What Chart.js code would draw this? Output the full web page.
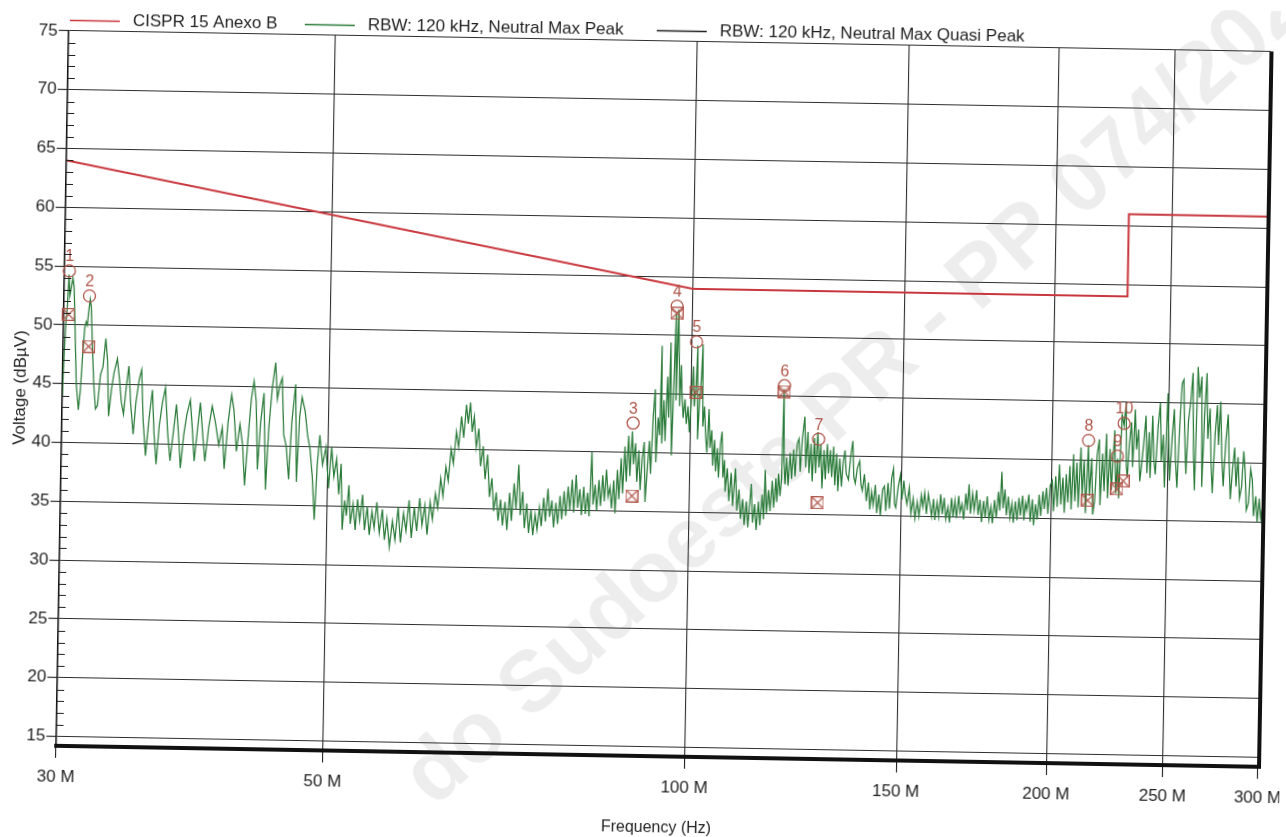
<!DOCTYPE html>
<html>
<head>
<meta charset="utf-8">
<title>Conducted emissions 30 MHz - 300 MHz</title>
<script src="https://cdn.jsdelivr.net/npm/chart.js@4.4.1/dist/chart.umd.min.js"></script>
<style>
  html, body { margin: 0; padding: 0; background: #ffffff; overflow: hidden; }
  #sheet { position: absolute; left: 0; top: 0; width: 1286px; height: 837px;
           transform: rotate(1deg); transform-origin: 643px 418.5px; }
  canvas { display: block; }
</style>
</head>
<body>
<div id="sheet"><canvas id="chart" width="1286" height="837"></canvas></div>
<script>
// ---- Series names -------------------------------------------------------
const seriesNames = [
  'CISPR 15 Anexo B',
  'RBW: 120 kHz, Neutral Max Peak',
  'RBW: 120 kHz, Neutral Max Quasi Peak'
];

// ---- Axis ticks ---------------------------------------------------------
const freqTicks = [30, 50, 100, 150, 200, 250, 300];            // MHz
const freqTickLabels = ['30 M', '50 M', '100 M', '150 M', '200 M', '250 M', '300 M'];
const levelTicks = [15, 20, 25, 30, 35, 40, 45, 50, 55, 60, 65, 70, 75];  // dBµV

// ---- Limit line (MHz, dBµV) ---------------------------------------------
const limitFreq = [30, 100, 230, 230, 300];
const limitLevel = [64, 54, 54, 61, 61];

// ---- Markers: peak (circle) and quasi-peak (boxed cross) ---------------
const markerNumbers = ['1', '2', '3', '4', '5', '6', '7', '8', '9', '10'];
const markerFreq = [30.28, 31.5, 89.6, 97.1, 100.9, 119.6, 127.9, 214.5, 226.8, 229.5];
const markerPeak = [54.6, 52.5, 42.5, 52.5, 49.5, 45.9, 41.4, 41.7, 40.4, 43.2];
const markerQuasiPeak = [50.9, 48.2, 36.3, 51.9, 45.2, 45.4, 36.0, 36.6, 37.6, 38.3];

// ---- Max peak sweep, [MHz, dBµV] ------------------------------------------
const sweep30to50 = [
  [30.00,44.0],[30.07,47.8],[30.14,50.3],[30.20,51.5],[30.27,54.3],[30.34,52.5],[30.42,53.2],[30.50,54.0],[30.58,53.2],[30.68,49.5],
  [30.80,45.0],[30.95,42.8],[31.05,44.5],[31.15,47.5],[31.25,49.8],[31.33,50.3],[31.40,50.0],[31.47,51.2],[31.55,52.2],[31.62,51.6],
  [31.72,48.5],[31.85,45.0],[31.98,42.9],[32.10,43.2],[32.25,45.8],[32.40,46.5],[32.55,48.9],[32.68,47.0],[32.80,42.3],[32.95,44.5],
  [33.10,46.0],[33.30,47.2],[33.45,45.5],[33.60,43.5],[33.75,42.5],[33.90,44.8],[34.05,46.6],[34.20,43.5],[34.40,40.8],[34.55,43.5],
  [34.75,45.5],[34.90,46.3],[35.05,42.0],[35.25,39.0],[35.45,42.2],[35.65,44.6],[35.80,41.0],[35.98,38.3],[36.15,41.5],[36.35,43.5],
  [36.55,44.8],[36.75,41.0],[36.95,38.6],[37.15,41.0],[37.35,43.4],[37.55,40.5],[37.70,38.0],[37.90,40.8],[38.10,42.5],[38.35,43.8],
  [38.55,41.0],[38.70,38.6],[38.90,41.2],[39.10,43.6],[39.30,41.0],[39.50,38.6],[39.75,41.5],[40.00,43.3],[40.25,42.0],[40.55,40.0],
  [40.80,41.5],[41.00,38.0],[41.25,42.0],[41.50,44.3],[41.70,43.0],[41.95,39.5],[42.20,41.8],[42.45,40.0],[42.65,36.6],[42.90,41.0],
  [43.10,44.0],[43.30,45.5],[43.50,43.8],[43.70,38.0],[43.90,42.0],[44.15,44.5],[44.40,36.3],[44.60,41.5],[44.85,45.0],[45.10,47.1],
  [45.30,44.0],[45.50,45.2],[45.70,45.8],[45.90,41.0],[46.15,40.0],[46.40,37.2],[46.60,42.0],[46.90,45.3],[47.10,37.0],[47.30,42.5],
  [47.50,44.2],[47.80,43.0],[48.05,41.0],[48.30,39.8],[48.55,37.5],[48.80,33.8],[49.00,38.5],[49.20,41.0],[49.50,38.5],[49.80,40.0]
];
const sweep50to100 = [
  [50.10,36.5],[50.35,40.0],[50.60,37.5],[50.85,39.0],[51.10,36.0],[51.30,38.6],[51.50,33.0],[51.70,35.5],[51.90,34.2],[52.10,36.8],
  [52.30,33.5],[52.55,35.2],[52.80,33.0],[53.00,35.6],[53.25,33.8],[53.50,36.0],[53.75,33.0],[54.00,35.0],[54.25,32.6],[54.50,34.6],
  [54.75,33.2],[55.00,35.4],[55.30,32.8],[55.60,34.8],[55.85,32.2],[56.10,34.0],[56.40,31.6],[56.70,33.8],[57.00,32.2],[57.30,35.0],
  [57.60,32.0],[57.90,34.5],[58.20,33.0],[58.50,35.6],[58.80,32.4],[59.10,35.0],[59.40,33.0],[59.70,35.8],[60.00,33.5],[60.30,35.2],
  [60.60,32.7],[60.90,35.5],[61.20,34.0],[61.50,36.2],[61.80,35.0],[62.10,37.5],[62.40,36.0],[62.70,38.5],[63.00,37.3],[63.30,40.0],
  [63.60,38.8],[63.90,41.5],[64.20,40.2],[64.50,42.8],[64.80,41.0],[65.10,43.8],[65.35,42.2],[65.60,44.0],[65.85,41.5],[66.10,42.8],
  [66.40,40.2],[66.70,41.8],[67.00,38.6],[67.30,40.3],[67.60,37.5],[67.90,39.6],[68.20,36.0],[68.50,37.6],[68.80,34.8],[69.10,36.4],
  [69.40,34.0],[69.70,35.8],[70.00,33.6],[70.30,35.6],[70.60,33.2],[70.90,36.4],[71.20,34.0],[71.50,37.2],[71.80,35.0],[72.10,38.8],
  [72.40,34.5],[72.70,36.5],[73.00,33.4],[73.30,35.5],[73.60,33.0],[73.90,35.0],[74.20,32.8],[74.50,34.6],[74.80,33.3],[75.10,35.2],
  [75.40,33.6],[75.70,36.0],[76.00,34.0],[76.30,36.8],[76.60,34.4],[76.90,35.8],[77.20,33.5],[77.50,35.6],[77.80,33.8],[78.10,36.2],
  [78.40,34.2],[78.70,36.6],[79.00,34.5],[79.30,37.0],[79.60,35.0],[79.90,37.6],[80.20,34.8],[80.50,38.0],[80.80,35.2],[81.10,36.8],
  [81.40,34.6],[81.70,37.0],[82.00,34.7],[82.30,36.5],[82.60,34.5],[82.90,40.0],[83.20,35.5],[83.50,37.2],[83.80,35.0],[84.10,37.6],
  [84.40,35.4],[84.70,38.0],[85.00,35.8],[85.30,38.5],[85.60,36.2],[85.90,37.0],[86.20,35.2],[86.50,37.6],[86.80,34.8],[87.10,38.5],
  [87.40,36.0],[87.70,39.5],[88.00,36.5],[88.30,40.5],[88.60,37.5],[88.90,41.4],[89.20,38.0],[89.50,41.8],[89.80,39.0],[90.10,40.8],
  [90.40,37.5],[90.70,40.2],[91.00,36.8],[91.30,39.5],[91.60,40.9],[91.90,35.8],[92.20,38.5],[92.50,41.0],[92.80,38.2],[93.10,43.0],
  [93.40,45.4],[93.70,39.2],[94.00,43.0],[94.30,41.5],[94.50,49.1],[94.70,40.8],[95.00,44.5],[95.30,41.0],[95.60,46.5],[95.90,43.0],
  [96.10,49.4],[96.30,44.0],[96.50,39.8],[96.80,47.0],[97.00,51.9],[97.20,44.5],[97.45,52.2],[97.70,48.0],[97.90,44.0],[98.10,47.5],
  [98.30,45.1],[98.60,43.0],[98.90,44.6],[99.20,42.5],[99.50,44.0],[99.80,41.8]
];
const sweep100to150 = [
  [100.10,44.5],[100.40,47.4],[100.70,44.0],[101.00,46.0],[101.20,49.2],[101.40,41.2],[101.70,44.5],[102.00,46.5],[102.20,49.3],[102.40,42.3],
  [102.70,44.0],[103.00,41.5],[103.30,40.1],[103.60,43.8],[103.90,40.5],[104.20,42.0],[104.50,39.0],[104.80,41.2],[105.10,38.5],[105.40,40.5],
  [105.70,38.0],[106.00,40.8],[106.30,41.9],[106.60,38.0],[106.90,39.5],[107.10,36.8],[107.50,38.8],[107.90,36.0],[108.30,38.4],[108.70,35.6],
  [109.20,38.8],[109.60,35.2],[110.00,37.0],[110.40,34.5],[110.80,36.2],[111.20,34.0],[111.60,36.0],[112.00,33.8],[112.60,37.5],[113.00,34.2],
  [113.40,35.8],[113.80,33.6],[114.20,36.0],[114.60,34.0],[115.00,36.6],[115.40,34.5],[115.60,38.7],[116.00,35.0],[116.40,37.0],[116.80,35.2],
  [117.20,37.8],[117.60,35.5],[118.00,38.0],[118.30,36.0],[118.60,38.4],[119.00,36.5],[119.30,38.0],[119.55,45.6],[119.80,39.5],[120.10,37.5],
  [120.40,39.8],[120.80,37.4],[121.20,40.2],[121.60,38.0],[122.00,40.5],[122.40,38.2],[122.80,41.0],[123.20,41.4],[123.60,38.6],[124.00,41.5],
  [124.50,43.3],[124.90,39.0],[125.30,42.0],[125.70,38.5],[126.10,41.0],[126.50,37.8],[126.90,41.5],[127.30,38.5],[127.70,42.0],[128.10,39.0],
  [128.50,41.0],[128.90,37.2],[129.30,40.5],[129.70,38.0],[130.10,41.0],[130.50,38.5],[130.90,40.5],[131.30,38.2],[131.70,40.8],[132.10,37.5],
  [132.50,40.2],[132.90,37.0],[133.30,39.8],[133.80,37.4],[134.20,39.5],[134.60,40.5],[135.00,38.5],[135.60,38.0],[136.10,40.0],[136.60,41.3],
  [137.00,38.2],[137.40,37.7],[137.90,39.0],[138.50,39.6],[138.90,37.6],[139.30,37.1],[139.80,38.5],[140.40,36.2],[140.90,37.8],[141.40,35.5],
  [141.80,37.0],[142.30,35.9],[142.80,37.6],[143.30,35.2],[143.80,36.8],[144.30,35.0],[144.80,37.2],[145.30,37.5],[145.80,35.4],[146.30,37.8],
  [146.80,35.6],[147.30,38.2],[147.80,39.0],[148.20,36.0],[148.60,35.7],[149.20,37.5],[149.80,38.5]
];
const sweep150to200 = [
  [150.30,36.4],[150.80,38.0],[151.20,36.9],[151.80,36.0],[152.40,37.4],[153.00,35.2],[153.60,36.5],[154.20,34.8],[154.80,36.2],[155.40,35.0],
  [156.00,36.8],[156.50,35.8],[157.00,37.0],[157.60,35.2],[158.10,36.9],[158.60,36.1],[159.20,35.0],[159.70,36.5],[160.20,34.7],[160.80,36.2],
  [161.40,35.0],[161.90,36.9],[162.50,35.2],[163.00,36.6],[163.60,34.8],[164.20,35.8],[164.80,34.5],[165.30,36.6],[165.90,35.0],[166.40,36.4],
  [167.00,34.9],[167.60,36.8],[168.10,35.4],[168.70,36.1],[169.30,34.8],[169.90,37.0],[170.40,35.6],[170.90,37.8],[171.50,35.3],[172.10,37.0],
  [172.70,35.6],[173.40,37.3],[174.00,35.2],[174.60,36.5],[175.20,34.6],[175.80,36.4],[176.40,35.0],[177.00,36.8],[177.70,34.8],[178.30,35.9],
  [178.90,34.5],[179.50,36.5],[180.20,35.0],[180.80,37.2],[181.40,35.6],[181.90,38.9],[182.50,35.8],[183.10,37.4],[183.70,35.2],[184.30,36.8],
  [185.00,35.0],[185.60,36.2],[186.20,34.6],[186.80,36.4],[187.50,34.8],[188.10,36.7],[188.70,35.2],[189.40,36.9],[190.00,34.8],[190.50,36.3],
  [191.00,35.7],[191.70,37.0],[192.30,34.7],[193.00,36.6],[193.60,34.4],[194.20,36.2],[194.90,34.9],[195.50,37.0],[196.20,35.2],[196.90,37.3],
  [197.50,35.8],[198.20,37.6],[198.90,35.4],[199.60,37.8]
];
const sweep200to300 = [
  [200.40,38.2],[201.00,35.6],[201.70,38.6],[202.40,36.0],[203.10,39.6],[203.80,36.2],[204.50,38.5],[205.20,35.5],[205.80,38.8],[206.50,36.4],
  [207.20,39.5],[207.90,35.8],[208.60,40.5],[209.30,36.5],[210.00,39.8],[210.70,36.0],[211.50,41.1],[212.20,37.0],[212.90,40.0],[213.70,35.5],
  [214.50,41.3],[215.20,37.0],[216.00,40.2],[216.70,35.4],[217.40,36.5],[218.20,40.5],[219.00,41.8],[219.70,36.2],[220.50,40.6],[221.30,37.4],
  [222.00,42.3],[222.80,36.8],[223.60,41.0],[224.40,37.5],[225.50,42.6],[226.30,37.2],[227.00,40.2],[227.60,36.8],[228.60,44.0],[229.50,43.0],
  [230.30,45.0],[230.80,39.5],[231.30,38.6],[232.00,41.5],[232.80,43.3],[233.60,39.5],[234.40,44.4],[235.20,41.0],[236.00,42.7],[236.90,38.3],
  [237.80,40.0],[238.60,42.0],[239.30,43.9],[240.10,39.0],[240.90,42.5],[241.60,38.6],[242.40,43.9],[243.20,40.2],[244.00,38.9],[244.90,42.8],
  [245.90,45.0],[246.70,40.0],[247.50,42.3],[248.40,37.8],[249.40,45.8],[250.10,41.5],[250.80,38.4],[251.70,42.0],[252.60,44.5],[253.50,40.2],
  [254.40,37.8],[255.30,43.0],[256.20,46.7],[257.00,47.0],[257.80,42.5],[258.70,39.0],[259.60,43.5],[260.50,45.0],[261.50,47.6],[262.30,41.0],
  [263.10,37.6],[264.00,48.1],[265.00,45.5],[266.00,47.3],[266.80,37.9],[267.70,44.0],[268.60,47.6],[269.50,42.0],[270.50,44.6],[271.40,40.0],
  [272.30,37.4],[273.30,42.5],[274.30,44.9],[275.10,41.5],[276.00,45.2],[277.00,40.5],[278.00,38.0],[279.00,41.8],[280.10,44.1],[281.00,40.0],
  [281.90,36.9],[282.90,39.5],[283.90,41.3],[284.90,38.0],[285.80,40.5],[286.90,37.0],[288.00,38.0],[288.90,41.0],[289.80,39.4],[290.80,36.0],
  [291.90,36.6],[292.90,39.5],[293.90,38.6],[294.90,35.5],[296.00,37.2],[297.00,35.0],[298.00,37.0],[299.00,35.3],[300.00,36.5]
];

// ---- Styling ---------------------------------------------------------------
const FONT = "'Liberation Sans', Arial, Helvetica, sans-serif";
const INK = '#1f1f1f';
const GRID = '#2e2e2e';
const LIMIT_RED = '#c8373d';
const PEAK_GREEN = '#2a7b39';
const MARKER_RED = '#b0564a';

Chart.defaults.font.family = FONT;
Chart.defaults.color = INK;

// Boxed-cross symbol used for the quasi-peak readings
function boxedCross(color, size) {
  const c = document.createElement('canvas');
  c.width = size; c.height = size;
  const g = c.getContext('2d');
  g.strokeStyle = color;
  g.lineWidth = 1.2;
  g.strokeRect(0.6, 0.6, size - 1.2, size - 1.2);
  g.beginPath();
  g.moveTo(1.5, 1.5); g.lineTo(size - 1.5, size - 1.5);
  g.moveTo(size - 1.5, 1.5); g.lineTo(1.5, size - 1.5);
  g.stroke();
  return c;
}

const toPoints = (xs, ys) => xs.map((x, i) => ({ x, y: ys[i] }));
const sweep = [].concat(sweep30to50, sweep50to100, sweep100to150, sweep150to200, sweep200to300)
  .map(([x, y]) => ({ x, y }));

// Light diagonal stamp behind the plot
const stampPlugin = {
  id: 'stamp',
  beforeDraw(chart, args, opts) {
    const ctx = chart.ctx;
    ctx.save();
    ctx.fillStyle = '#ffffff';
    ctx.fillRect(0, 0, chart.width, chart.height);
    ctx.translate(opts.x, opts.y);
    ctx.rotate(opts.angle * Math.PI / 180);
    ctx.font = 'bold ' + opts.size + 'px ' + FONT;
    ctx.fillStyle = opts.color;
    ctx.textBaseline = 'alphabetic';
    ctx.fillText(opts.text, 0, 0);
    ctx.restore();
  }
};

// Minor ticks on the level axis and the heavy right-hand frame edge
const framePlugin = {
  id: 'frame',
  afterDraw(chart) {
    const { ctx, chartArea } = chart;
    const y = chart.scales.y;
    ctx.save();
    ctx.strokeStyle = INK;
    ctx.lineWidth = 1.1;
    ctx.beginPath();
    for (let v = Math.ceil(y.min); v < y.max; v++) {
      if (v % 5 === 0) continue;
      const py = Math.round(y.getPixelForValue(v)) + 0.5;
      ctx.moveTo(chartArea.left, py);
      ctx.lineTo(chartArea.left + 7, py);
    }
    ctx.stroke();
    ctx.strokeStyle = '#111111';
    ctx.lineWidth = 4;
    ctx.beginPath();
    ctx.moveTo(chartArea.right + 1, chartArea.top - 0.5);
    ctx.lineTo(chartArea.right + 1, chartArea.bottom + 2);
    ctx.stroke();
    ctx.restore();
  }
};

// Marker numbers above the peak circles
const markerLabelPlugin = {
  id: 'markerLabels',
  afterDatasetsDraw(chart) {
    const ctx = chart.ctx;
    chart.data.datasets.forEach((ds, di) => {
      if (!ds.markerTexts) return;
      const meta = chart.getDatasetMeta(di);
      ctx.save();
      ctx.font = '16px ' + FONT;
      ctx.fillStyle = MARKER_RED;
      ctx.textAlign = 'center';
      ctx.textBaseline = 'middle';
      meta.data.forEach((pt, i) => ctx.fillText(ds.markerTexts[i], pt.x, pt.y - 14));
      ctx.restore();
    });
  }
};

// Series key across the top
const seriesKeyPlugin = {
  id: 'seriesKey',
  afterDraw(chart, args, opts) {
    const ctx = chart.ctx;
    ctx.save();
    ctx.font = opts.fontSize + 'px ' + FONT;
    ctx.textBaseline = 'middle';
    chart.data.datasets.forEach(ds => {
      if (ds.keySlot === undefined) return;
      const x = opts.slots[ds.keySlot];
      ctx.strokeStyle = ds.keyColor || ds.borderColor;
      ctx.lineWidth = 1.4;
      ctx.beginPath();
      ctx.moveTo(x, opts.y + 0.5);
      ctx.lineTo(x + opts.lineLength, opts.y + 0.5);
      ctx.stroke();
      ctx.fillStyle = INK;
      ctx.fillText(ds.label, x + opts.lineLength + opts.gap, opts.y);
    });
    ctx.restore();
  }
};

new Chart(document.getElementById('chart'), {
  type: 'line',
  data: {
    datasets: [
      {
        label: 'Marcadores',
        data: toPoints(markerFreq, markerPeak),
        markerTexts: markerNumbers,
        showLine: false,
        pointStyle: 'circle',
        pointRadius: 6,
        pointBorderWidth: 1.3,
        pointBorderColor: MARKER_RED,
        pointBackgroundColor: 'rgba(0,0,0,0)',
        clip: false,
        order: 0
      },
      {
        label: seriesNames[2],
        data: toPoints(markerFreq, markerQuasiPeak),
        keySlot: 2,
        keyColor: '#202020',
        borderColor: '#202020',
        showLine: false,
        pointStyle: boxedCross(MARKER_RED, 13),
        pointRadius: 6,
        clip: false,
        order: 1
      },
      {
        label: seriesNames[0],
        data: toPoints(limitFreq, limitLevel),
        keySlot: 0,
        borderColor: LIMIT_RED,
        borderWidth: 2,
        pointRadius: 0,
        order: 2
      },
      {
        label: seriesNames[1],
        data: sweep,
        keySlot: 1,
        borderColor: PEAK_GREEN,
        borderWidth: 1.25,
        pointRadius: 0,
        order: 3
      }
    ]
  },
  options: {
    responsive: false,
    animation: false,
    events: [],
    layout: { autoPadding: false, padding: { top: 41, right: 22, bottom: 0, left: 0 } },
    plugins: {
      legend: { display: false },
      tooltip: { enabled: false },
      seriesKey: { y: 30, slots: [63, 298, 650], lineLength: 50, gap: 13, fontSize: 17 },
      stamp: { text: 'do Sudoeste PR - PP 074/202', x: 441, y: 812, angle: -43.3, size: 86,
               color: 'rgba(0,0,0,0.07)' }
    },
    scales: {
      x: {
        type: 'logarithmic',
        position: 'bottom',
        min: 30,
        max: 300,
        afterBuildTicks: scale => { scale.ticks = freqTicks.map(v => ({ value: v })); },
        afterFit: scale => {
          scale.height = 81;
          scale.paddingLeft = 0;
          scale.paddingRight = 0;
        },
        ticks: {
          autoSkip: false,
          maxRotation: 0,
          padding: 9,
          font: { size: 17 },
          color: INK,
          callback: (value, index) => freqTickLabels[index]
        },
        grid: { color: GRID, lineWidth: 1.1, tickLength: 12, tickColor: INK },
        border: { display: true, color: '#111111', width: 4 },
        title: { display: true, text: 'Frequency (Hz)', font: { size: 16 }, color: INK,
                 padding: { top: 0, bottom: 0 } }
      },
      y: {
        type: 'linear',
        position: 'left',
        min: 14.2,
        max: 75,
        afterBuildTicks: scale => { scale.ticks = levelTicks.map(v => ({ value: v })); },
        afterFit: scale => {
          scale.width = 62;
          scale.paddingTop = 0;
          scale.paddingBottom = 0;
        },
        ticks: {
          padding: 1,
          font: { size: 17 },
          color: INK,
          callback: value => String(value)
        },
        grid: { color: GRID, lineWidth: 1.1, tickLength: 10, tickColor: INK },
        border: { display: true, color: '#111111', width: 1.5 },
        title: { display: true, text: 'Voltage (dBµV)', font: { size: 17 }, color: INK,
                 padding: { top: 10, bottom: 0 } }
      }
    }
  },
  plugins: [stampPlugin, framePlugin, markerLabelPlugin, seriesKeyPlugin]
});
</script>
</body>
</html>
